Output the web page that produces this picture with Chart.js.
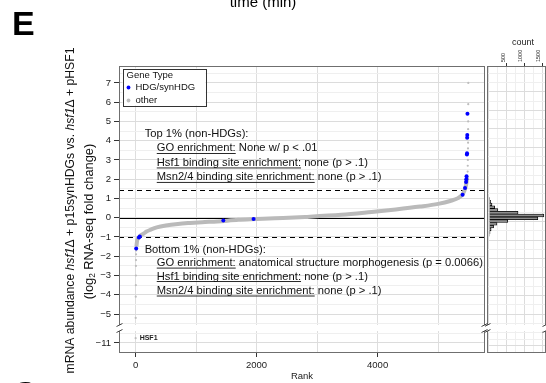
<!DOCTYPE html>
<html>
<head>
<meta charset="utf-8">
<script src="https://cdn.jsdelivr.net/npm/chart.js@4.4.1/dist/chart.umd.min.js"></script>
<style>
  html, body { margin: 0; padding: 0; background: #fff; }
  #wrap { position: relative; width: 546px; height: 383px; overflow: hidden; background: #fff; }
  #main, #hist { position: absolute; left: 0; top: 0; }
</style>
</head>
<body>
<div id="wrap">
  <canvas id="hist" width="560" height="383"></canvas>
  <canvas id="main" width="546" height="383"></canvas>
</div>
<script>
// ranked log2 fold change of the non-HDG genes
const curveRank = [14, 25, 40, 60, 90, 130, 180, 250, 350, 500, 700, 900, 1100, 1350, 1700, 2000, 2300, 2800, 3400, 3900, 4300, 4700, 5000, 5200, 5330, 5400, 5440, 5465, 5480];
const curveLfc  = [-1.5, -1.2, -1.07, -0.99, -0.9, -0.83, -0.72, -0.62, -0.5, -0.4, -0.32, -0.27, -0.23, -0.19, -0.11, -0.07, -0.03, 0.04, 0.15, 0.3, 0.43, 0.58, 0.72, 0.87, 1.02, 1.2, 1.45, 1.75, 2.1];
// sparse extreme genes at both ends
const tailRank = [2, 3, 4, 5, 6, 7, 8, 10, 5488, 5490, 5492, 5494, 5495, 5496, 5497, 5498, 5499];
const tailLfc  = [-5.2, -4.1, -3.5, -3.0, -2.5, -2.2, -1.9, -1.7, 2.4, 2.7, 3.0, 3.6, 3.9, 4.6, 5.0, 5.9, 7.0];
// HDG / synHDG genes
const hdgRank = [10, 55, 70, 1450, 1950, 5405, 5445, 5462, 5466, 5470, 5476, 5478, 5480, 5482, 5485];
const hdgLfc  = [-1.6, -1.02, -0.97, -0.14, -0.07, 1.2, 1.55, 1.85, 2.0, 2.15, 3.28, 3.35, 4.15, 4.3, 5.4];
// HSF1 itself, below the axis break
const hsf1Rank = [1];
const hsf1Lfc  = [-10.75];
// 1% cut-offs (dashed lines)
const cutoffLfc = [1.42, -1.0];
// marginal histogram
const histMid   = [0.975, 0.825, 0.675, 0.525, 0.375, 0.225, 0.075, -0.075, -0.225, -0.375, -0.525, -0.675, -0.825, -0.975];
const histCount = [20, 45, 85, 160, 250, 820, 1550, 1380, 530, 225, 130, 60, 30, 15];

const FONT = '"Liberation Sans", Arial, Helvetica, sans-serif';
Chart.defaults.font.family = FONT;
Chart.defaults.color = '#222';

const isInt = v => Math.abs(v - Math.round(v)) < 1e-6;
const gridCol = ctx => ctx.tick && isInt(ctx.tick.value) ? '#dcdcdc' : '#efefef';

function yScale(min, max, weight, stackWeight, width, labels) {
  return {
    type: 'linear', position: 'left', stack: 'left', stackWeight, weight, min, max,
    border: { display: false },
    grid: {
      color: gridCol, lineWidth: 1, drawTicks: labels, tickLength: 5,
      tickColor: ctx => ctx.tick && isInt(ctx.tick.value) ? '#333' : 'rgba(0,0,0,0)'
    },
    ticks: {
      display: labels, stepSize: 0.5, includeBounds: false, autoSkip: false, padding: 3,
      font: { size: 9.5 }, color: '#222',
      callback: v => isInt(v) ? String(Math.round(v)).replace('-', '\u2212') : ''
    },
    afterFit: s => { s.width = width; }
  };
}
function gapScale(width) {
  return {
    type: 'linear', position: 'left', stack: 'left', stackWeight: 6, weight: 1, min: 0, max: 1,
    border: { display: false }, grid: { display: false }, ticks: { display: false },
    afterFit: s => { s.width = width; }
  };
}
// ticks on every multiple of step inside the scale range
const stepTicks = step => s => {
  const t = [];
  for (let v = Math.ceil(s.min / step) * step; v <= s.max; v += step) t.push({ value: v });
  s.ticks = t;
};

function segFont(style, size) {
  if (style === 'i') return 'italic ' + size + 'px ' + FONT;
  if (style === 'b') return 'bold ' + size + 'px ' + FONT;
  if (style === 'sub') return (size * 0.65) + 'px ' + FONT;
  return size + 'px ' + FONT;
}
function richWidth(ctx, segs, size) {
  let w = 0;
  segs.forEach(s => { ctx.font = segFont(s[1], size); w += ctx.measureText(s[0]).width; });
  return w;
}
function drawRich(ctx, segs, size, x, y, center) {
  if (center) x -= richWidth(ctx, segs, size) / 2;
  segs.forEach(s => {
    ctx.font = segFont(s[1], size);
    const w = ctx.measureText(s[0]).width;
    ctx.fillText(s[0], x, s[1] === 'sub' ? y + size * 0.3 : y);
    if (s[1] === 'u') {
      ctx.fillRect(x, y + 1.6, w, 0.9);
    }
    x += w;
  });
}

function drawFrame(ctx, l, r, top, gapTop, gapBot, bottom, col) {
  ctx.save();
  ctx.strokeStyle = col; ctx.lineWidth = 1;
  ctx.beginPath();
  [l, r].forEach(x => {
    const xx = Math.round(x) + 0.5;
    ctx.moveTo(xx, top); ctx.lineTo(xx, gapTop);
    ctx.moveTo(xx, gapBot); ctx.lineTo(xx, bottom);
  });
  ctx.moveTo(l, Math.round(top) + 0.5); ctx.lineTo(r + 1, Math.round(top) + 0.5);
  ctx.moveTo(l, Math.round(bottom) - 0.5); ctx.lineTo(r + 1, Math.round(bottom) - 0.5);
  ctx.stroke();
  // break marks
  ctx.strokeStyle = '#444';
  ctx.beginPath();
  [l, r].forEach(x => {
    const xx = Math.round(x) + 0.5;
    ctx.moveTo(xx - 3, gapTop + 1.5); ctx.lineTo(xx + 3, gapTop - 1.5);
    ctx.moveTo(xx - 3, gapBot + 1.5); ctx.lineTo(xx + 3, gapBot - 1.5);
  });
  ctx.stroke();
  ctx.restore();
}

const mainDeco = {
  id: 'mainDeco',
  beforeDatasetsDraw(chart) {
    const { ctx, chartArea: a, scales } = chart;
    const up = scales.yUp, gap = scales.yGap;
    ctx.save();
    ctx.fillStyle = '#fff';
    ctx.fillRect(a.left, gap.top, a.right - a.left, gap.bottom - gap.top);
    ctx.strokeStyle = '#000'; ctx.lineWidth = 1;
    ctx.beginPath();
    const y0 = Math.round(up.getPixelForValue(0)) + 0.5;
    ctx.moveTo(a.left, y0); ctx.lineTo(a.right, y0);
    ctx.stroke();
    ctx.setLineDash([5, 4]);
    ctx.beginPath();
    cutoffLfc.forEach(v => {
      const y = Math.round(up.getPixelForValue(v)) + 0.5;
      ctx.moveTo(a.left, y); ctx.lineTo(a.right, y);
    });
    ctx.stroke();
    ctx.restore();
  },
  afterDatasetsDraw(chart) {
    const { ctx, chartArea: a, scales } = chart;
    const x = scales.x, up = scales.yUp, low = scales.yLow, gap = scales.yGap;
    drawFrame(ctx, a.left, a.right - 1, a.top, gap.top, gap.bottom, a.bottom, '#6f6f6f');

    ctx.save();
    ctx.fillStyle = '#111';
    ctx.textBaseline = 'alphabetic';
    // enrichment notes
    const hx = x.getPixelForValue(150), ix = x.getPixelForValue(350);
    const notes = [
      [4.4, [['Top 1% (non-HDGs):', '']]],
      [3.65, [['GO enrichment:', 'u'], [' None w/ p < .01', '']]],
      [2.9, [['Hsf1 binding site enrichment:', 'u'], [' none (p > .1)', '']]],
      [2.15, [['Msn2/4 binding site enrichment:', 'u'], [' none (p > .1)', '']]],
      [-1.6, [['Bottom 1% (non-HDGs):', '']]],
      [-2.3, [['GO enrichment:', 'u'], [' anatomical structure morphogenesis (p = 0.0066)', '']]],
      [-3.0, [['Hsf1 binding site enrichment:', 'u'], [' none (p > .1)', '']]],
      [-3.75, [['Msn2/4 binding site enrichment:', 'u'], [' none (p > .1)', '']]]
    ];
    notes.forEach((n, i) => {
      const px = (i % 4 === 0) ? hx : ix;
      drawRich(ctx, n[1], 11.2, px, up.getPixelForValue(n[0]) + 4, false);
    });
    // HSF1 label
    ctx.font = 'bold 7px ' + FONT;
    ctx.textBaseline = 'middle';
    ctx.fillStyle = '#222';
    ctx.fillText('HSF1', x.getPixelForValue(hsf1Rank[0]) + 4, low.getPixelForValue(hsf1Lfc[0]));

    // legend
    const lx = a.left + 3.5, ly = a.top + 2.5;
    ctx.fillStyle = '#fff';
    ctx.fillRect(lx, ly, 83, 37);
    ctx.strokeStyle = '#333'; ctx.lineWidth = 1;
    ctx.strokeRect(Math.round(lx) + 0.5, Math.round(ly) + 0.5, 83, 37);
    ctx.fillStyle = '#111';
    ctx.font = '9.5px ' + FONT;
    ctx.fillText('Gene Type', lx + 4, ly + 7);
    const items = [['HDG/synHDG', '#0000ff'], ['other', '#bdbdbd']];
    items.forEach((it, i) => {
      const yy = ly + 19 + i * 13;
      ctx.fillStyle = it[1];
      ctx.beginPath(); ctx.arc(lx + 6, yy, 1.9, 0, Math.PI * 2); ctx.fill();
      ctx.fillStyle = '#111';
      ctx.fillText(it[0], lx + 13, yy);
    });
    ctx.restore();
  },
  afterDraw(chart) {
    const { ctx, chartArea: a } = chart;
    ctx.save();
    ctx.fillStyle = '#111';
    ctx.textBaseline = 'middle';
    // y axis title
    const cy = (a.top + a.bottom) / 2;
    ctx.translate(71, cy + 1);
    ctx.rotate(-Math.PI / 2);
    drawRich(ctx, [['mRNA abundance ', ''], ['hsf1', 'i'], ['\u0394 + p15synHDGs vs. ', ''], ['hsf1', 'i'], ['\u0394 + pHSF1', '']], 12.2, 0, 0, true);
    ctx.setTransform(1, 0, 0, 1, 0, 0);
    ctx.translate(89, cy + 12);
    ctx.rotate(-Math.PI / 2);
    drawRich(ctx, [['(log', ''], ['2', 'sub'], [' RNA-seq fold change)', '']], 12.8, 0, 0, true);
    ctx.setTransform(1, 0, 0, 1, 0, 0);
    // panel letters and leftover caption from the panel above
    ctx.textBaseline = 'alphabetic';
    ctx.fillStyle = '#000';
    ctx.font = 'bold 34px ' + FONT;
    ctx.fillText('E', 12, 35);
    ctx.fillText('G', 12, 405);
    ctx.font = '15px ' + FONT;
    ctx.textAlign = 'center';
    ctx.fillText('time (min)', 263, 7);
    ctx.restore();
  }
};

const pts = (xs, ys) => xs.map((v, i) => ({ x: v, y: ys[i] }));

new Chart(document.getElementById('main'), {
  type: 'scatter',
  data: {
    datasets: [
      {
        type: 'scatter', label: 'HDG/synHDG', data: pts(hdgRank, hdgLfc), yAxisID: 'yUp',
        pointRadius: 2, pointBackgroundColor: '#0000ff', pointBorderWidth: 0, order: 0
      },
      {
        type: 'line', label: 'other', data: pts(curveRank, curveLfc), yAxisID: 'yUp',
        borderColor: '#bababa', borderWidth: 4, pointRadius: 0, fill: false,
        cubicInterpolationMode: 'monotone', order: 2
      },
      {
        type: 'scatter', label: 'other tails', data: pts(tailRank, tailLfc), yAxisID: 'yUp',
        pointRadius: 1.1, pointBackgroundColor: '#bdbdbd', pointBorderWidth: 0, order: 3
      },
      {
        type: 'scatter', label: 'HSF1', data: pts(hsf1Rank, hsf1Lfc), yAxisID: 'yLow',
        pointRadius: 1.1, pointBackgroundColor: '#bdbdbd', pointBorderWidth: 0, order: 1
      }
    ]
  },
  options: {
    responsive: false,
    animation: false,
    layout: { padding: { left: 0, top: 66, right: 61, bottom: 0 } },
    plugins: { legend: { display: false }, tooltip: { enabled: false } },
    scales: {
      x: {
        type: 'linear', position: 'bottom', min: -274, max: 5775,
        border: { display: false },
        grid: {
          color: '#dedede', tickLength: 4,
          tickColor: ctx => ctx.tick && ctx.tick.value % 2000 === 0 ? '#333' : 'rgba(0,0,0,0)'
        },
        ticks: {
          autoSkip: false, maxRotation: 0, padding: 3,
          font: { size: 9.5 }, color: '#222',
          callback: v => v % 2000 === 0 ? String(v) : ''
        },
        afterBuildTicks: stepTicks(1000),
        title: { display: true, text: 'Rank', font: { size: 9.5 }, color: '#222', padding: { top: 0, bottom: 1 } },
        afterFit: s => { s.height = 30; }
      },
      yUp: yScale(-5.57, 7.88, 2, 259, 119, true),
      yGap: gapScale(119),
      yLow: yScale(-11.52, -10.38, 0, 22, 119, true)
    }
  },
  plugins: [mainDeco]
});

const histDeco = {
  id: 'histDeco',
  beforeDatasetsDraw(chart) {
    const { ctx, chartArea: a, scales } = chart;
    const gap = scales.yGap;
    ctx.save();
    ctx.fillStyle = '#fff';
    ctx.fillRect(a.left, gap.top, a.right - a.left, gap.bottom - gap.top);
    ctx.restore();
  },
  afterDatasetsDraw(chart) {
    const { ctx, chartArea: a, scales } = chart;
    const gap = scales.yGap;
    drawFrame(ctx, a.left, a.right - 1, a.top, gap.top, gap.bottom, a.bottom, '#6f6f6f');
    ctx.save();
    ctx.fillStyle = '#222';
    ctx.font = '9px ' + FONT;
    ctx.textAlign = 'center';
    ctx.textBaseline = 'middle';
    ctx.fillText('count', 523, 43);
    ctx.restore();
  }
};

new Chart(document.getElementById('hist'), {
  type: 'bar',
  data: {
    datasets: [{
      label: 'count', data: pts(histCount, histMid),
      yAxisID: 'yUp', backgroundColor: '#8e8e8e', borderColor: '#000', borderWidth: 0.8,
      barPercentage: 1, categoryPercentage: 1
    }]
  },
  options: {
    indexAxis: 'y',
    responsive: false,
    animation: false,
    layout: { padding: { left: 487, top: 0, right: 14, bottom: 30 } },
    plugins: { legend: { display: false }, tooltip: { enabled: false } },
    scales: {
      x: {
        type: 'linear', position: 'top', min: -56, max: 1610,
        border: { display: false },
        grid: {
          color: ctx => ctx.tick && ctx.tick.value % 500 === 0 ? '#dcdcdc' : '#efefef',
          tickLength: 3,
          tickColor: ctx => ctx.tick && ctx.tick.value % 500 === 0 && ctx.tick.value > 0 ? '#333' : 'rgba(0,0,0,0)'
        },
        ticks: {
          autoSkip: false, minRotation: 90, maxRotation: 90,
          padding: 1, labelOffset: 3, font: { size: 5.5 }, color: '#222',
          callback: v => v % 500 === 0 && v > 0 ? String(v) : ''
        },
        afterBuildTicks: stepTicks(250),
        afterFit: s => { s.height = 66; }
      },
      yUp: yScale(-5.57, 7.88, 2, 259, 0, false),
      yGap: gapScale(0),
      yLow: yScale(-11.52, -10.38, 0, 22, 0, false)
    }
  },
  plugins: [histDeco]
});
</script>
</body>
</html>
